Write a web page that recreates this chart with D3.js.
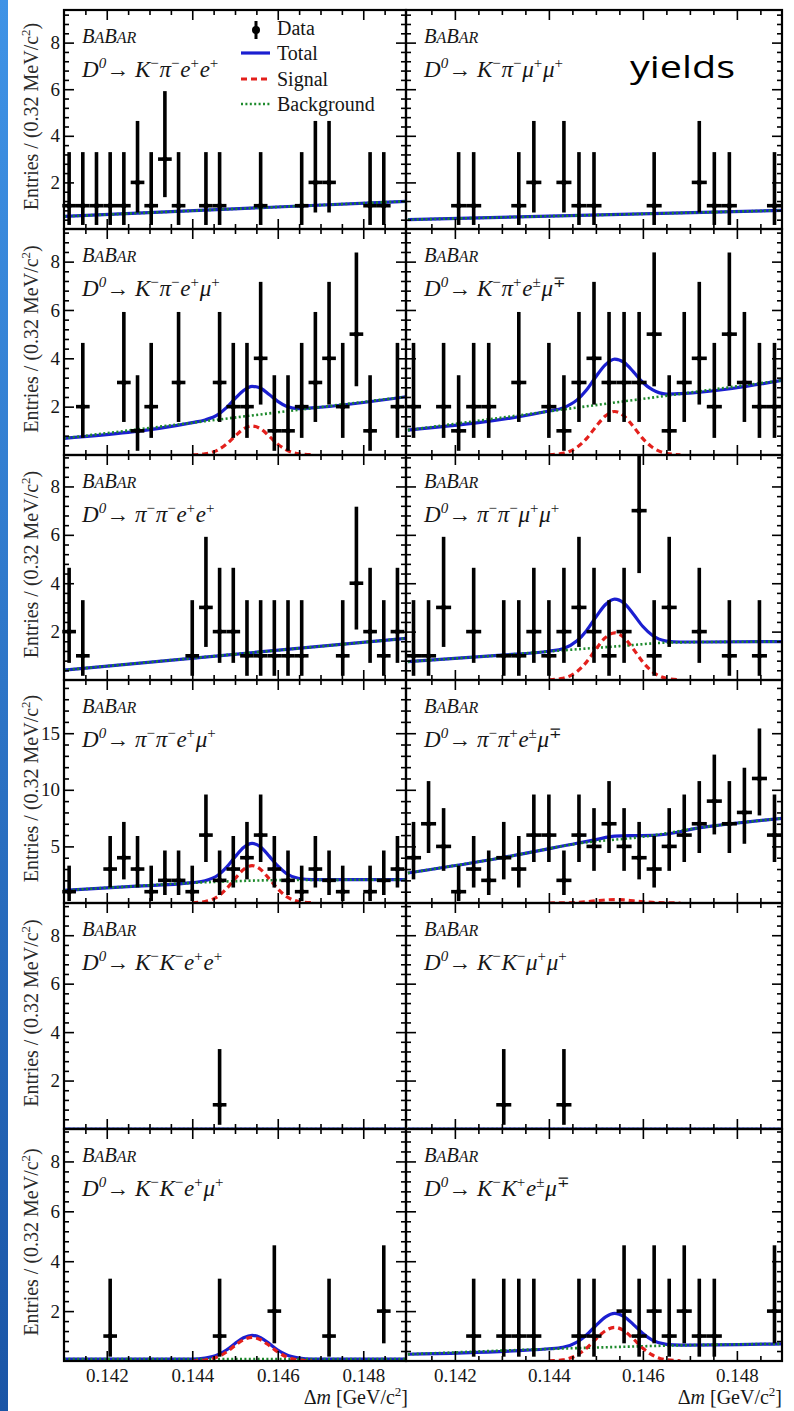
<!DOCTYPE html>
<html><head><meta charset="utf-8">
<script src="https://cdn.jsdelivr.net/npm/d3@7"></script>
<style>body{margin:0;background:#fff}svg{display:block}</style>
</head><body>
<svg id="c" width="794" height="1411"></svg>
<script>
// ---------------- DATA ----------------
const binCenters = [0.14112,0.14144,0.14176,0.14208,0.14240,0.14272,0.14304,0.14336,0.14368,0.14400,
  0.14432,0.14464,0.14496,0.14528,0.14560,0.14592,0.14624,0.14656,0.14688,0.14720,0.14752,0.14784,0.14816,0.14848,0.14880];
const binWidth = 0.00032;
const _ = null;
// Poisson (Garwood 68%) interval per count
const poissonLo = [0, 0.173, 0.708, 1.367, 2.086, 2.840, 3.620, 4.419, 5.232, 6.057, 6.891, 7.734];
const poissonHi = [1.841, 3.300, 4.638, 5.918, 7.163, 8.382, 9.584, 10.77, 11.95, 13.11, 14.27, 15.42];

const xTickLabels = [0.142, 0.144, 0.146, 0.148];
const yTicksLow = [2, 4, 6, 8];
const yTicksHigh = [5, 10, 15];

// counts per bin
const cKpiee     = [1,1,1,1,1,2,1,3,1,_,1,1,_,_,1,_,_,1,2,2,_,_,1,1,_];
const cKpimumu   = [_,_,_,1,1,_,_,1,2,_,2,1,1,_,_,_,1,_,_,2,1,1,_,_,1];
const cKpiemu    = [_,2,_,_,3,1,2,_,3,_,_,3,2,2,4,1,1,2,3,4,2,5,1,_,2];
const cKpiemuOS  = [2,_,2,1,2,2,_,3,_,2,1,3,4,3,3,3,5,1,3,4,2,5,3,2,2];
const cPipiee    = [2,1,_,_,_,_,_,_,_,1,3,2,2,1,1,1,1,1,_,_,1,4,2,1,2];
const cPipimumu  = [1,1,3,_,2,_,1,1,2,1,2,3,2,1,2,7,1,3,_,2,_,1,_,1,_];
const cPipiemu   = [1,_,_,3,4,3,1,2,2,1,6,2,3,4,6,3,2,1,3,2,1,_,1,2,3];
const cPipiemuOS = [4,7,5,1,3,2,4,3,6,6,2,6,5,7,5,4,3,5,6,7,9,7,8,11,6];
const cKKee      = [_,_,_,_,_,_,_,_,_,_,_,1,_,_,_,_,_,_,_,_,_,_,_,_,_];
const cKKmumu    = [_,_,_,_,_,_,1,_,_,_,1,_,_,_,_,_,_,_,_,_,_,_,_,_,_];
const cKKemu     = [_,_,_,1,_,_,_,_,_,_,_,1,_,_,_,2,_,_,_,1,_,_,_,2,_];
const cKKemuOS   = [_,_,_,_,1,_,1,1,1,_,_,1,1,_,2,1,2,1,2,1,1,_,_,_,2];

// fit curves: [Δm, entries]
const sigX = [0.1440,0.1443,0.1446,0.1448,0.1450,0.1452,0.1454,0.1456,0.1458,0.1460,0.1462,0.1465,0.1468];

const totKpiee = [[0.141,0.54],[0.149,1.19]];
const bgKpiee  = [[0.141,0.54],[0.149,1.19]];
const sigKpiee = [];
const totKpimumu = [[0.141,0.40],[0.149,0.80]];
const bgKpimumu  = [[0.141,0.40],[0.149,0.80]];
const sigKpimumu = [];

const totKpiemu = [[0.141,0.69],[0.1440,1.34],[0.1443,1.45],[0.1446,1.67],[0.1448,1.96],[0.1450,2.33],[0.1452,2.67],[0.1454,2.84],[0.1456,2.76],[0.1458,2.50],[0.1460,2.22],[0.1462,2.02],[0.1465,1.92],[0.1468,1.95],[0.149,2.41]];
const bgKpiemu  = [[0.141,0.69],[0.149,2.41]];
const sigKpiemu = [0.01,0.05,0.21,0.45,0.78,1.08,1.20,1.08,0.78,0.45,0.21,0.05,0.01];

const totKpiemuOS = [[0.141,1.03],[0.1440,1.82],[0.1443,1.95],[0.1446,2.28],[0.1448,2.69],[0.1450,3.24],[0.1452,3.73],[0.1454,3.97],[0.1456,3.83],[0.1458,3.44],[0.1460,3.00],[0.1462,2.70],[0.1465,2.52],[0.1468,2.54],[0.149,3.10]];
const bgKpiemuOS  = [[0.141,1.03],[0.149,3.10]];
const sigKpiemuOS = [0.01,0.07,0.32,0.68,1.17,1.61,1.80,1.61,1.17,0.68,0.32,0.07,0.01];

const totPipiee = [[0.141,0.41],[0.149,1.72]];
const bgPipiee  = [[0.141,0.41],[0.149,1.72]];
const sigPipiee = [];

const totPipimumu = [[0.141,0.76],[0.143,1.03],[0.1440,1.19],[0.1443,1.29],[0.1446,1.62],[0.1448,2.04],[0.1450,2.60],[0.1452,3.11],[0.1454,3.34],[0.1456,3.17],[0.1458,2.72],[0.1460,2.21],[0.1462,1.85],[0.1465,1.61],[0.1468,1.57],[0.149,1.59]];
const bgPipimumu  = [[0.141,0.76],[0.143,1.03],[0.1444,1.24],[0.1455,1.40],[0.1466,1.55],[0.149,1.59]];
const sigPipimumu = [0.01,0.07,0.35,0.74,1.27,1.75,1.95,1.75,1.27,0.74,0.35,0.07,0.01];

const totPipiemu = [[0.141,1.12],[0.1425,1.45],[0.1440,1.80],[0.1443,1.96],[0.1446,2.45],[0.1448,3.15],[0.1450,4.07],[0.1452,4.91],[0.1454,5.27],[0.1456,4.95],[0.1458,4.14],[0.1460,3.27],[0.1462,2.61],[0.1465,2.16],[0.1468,2.06],[0.149,2.06]];
const bgPipiemu  = [[0.141,1.12],[0.1425,1.45],[0.144,1.78],[0.145,1.93],[0.146,2.02],[0.149,2.06]];
const sigPipiemu = [0.02,0.13,0.58,1.25,2.14,2.96,3.30,2.96,2.14,1.25,0.58,0.13,0.02];

const totPipiemuOS = [[0.141,2.65],[0.143,4.0],[0.1446,5.28],[0.1450,5.6],[0.1454,5.9],[0.1458,5.95],[0.1462,5.97],[0.1473,6.7],[0.149,7.5]];
const bgPipiemuOS  = [[0.141,2.65],[0.143,4.0],[0.1447,5.3],[0.1460,5.85],[0.1473,6.7],[0.149,7.5]];
const sigPipiemuOS = [0,0.01,0.05,0.11,0.19,0.27,0.30,0.27,0.19,0.11,0.05,0.01,0];

const totKKee = [[0.141,0],[0.149,0]];
const bgKKee  = [[0.141,0],[0.149,0]];
const sigKKee = [];
const totKKmumu = [[0.141,0],[0.149,0]];
const bgKKmumu  = [[0.141,0],[0.149,0]];
const sigKKmumu = [];

const totKKemu = [[0.141,0.08],[0.1440,0.08],[0.1443,0.12],[0.1446,0.25],[0.1448,0.44],[0.1450,0.70],[0.1452,0.93],[0.1454,1.03],[0.1456,0.93],[0.1458,0.70],[0.1460,0.44],[0.1462,0.25],[0.1465,0.12],[0.1468,0.08],[0.149,0.08]];
const bgKKemu  = [[0.141,0.08],[0.149,0.08]];
const sigKKemu = [0,0.04,0.17,0.36,0.62,0.85,0.95,0.85,0.62,0.36,0.17,0.04,0];

const totKKemuOS = [[0.141,0.27],[0.1440,0.49],[0.1443,0.55],[0.1446,0.76],[0.1448,1.04],[0.1450,1.42],[0.1452,1.76],[0.1454,1.91],[0.1456,1.78],[0.1458,1.46],[0.1460,1.10],[0.1462,0.84],[0.1465,0.67],[0.1468,0.64],[0.149,0.69]];
const bgKKemuOS  = [[0.141,0.27],[0.1443,0.50],[0.1454,0.56],[0.1466,0.62],[0.149,0.69]];
const sigKKemuOS = [0.01,0.05,0.24,0.51,0.88,1.21,1.35,1.21,0.88,0.51,0.24,0.05,0.01];

// decay labels: [particle, charge]
const decays = [
  [["K","−"],["π","−"],["e","+"],["e","+"]],
  [["K","−"],["π","−"],["μ","+"],["μ","+"]],
  [["K","−"],["π","−"],["e","+"],["μ","+"]],
  [["K","−"],["π","+"],["e","±"],["μ","∓"]],
  [["π","−"],["π","−"],["e","+"],["e","+"]],
  [["π","−"],["π","−"],["μ","+"],["μ","+"]],
  [["π","−"],["π","−"],["e","+"],["μ","+"]],
  [["π","−"],["π","+"],["e","±"],["μ","∓"]],
  [["K","−"],["K","−"],["e","+"],["e","+"]],
  [["K","−"],["K","−"],["μ","+"],["μ","+"]],
  [["K","−"],["K","−"],["e","+"],["μ","+"]],
  [["K","−"],["K","+"],["e","±"],["μ","∓"]]
];

const panels = [
  {counts:cKpiee, tot:totKpiee, bg:bgKpiee, sig:sigKpiee},
  {counts:cKpimumu, tot:totKpimumu, bg:bgKpimumu, sig:sigKpimumu},
  {counts:cKpiemu, tot:totKpiemu, bg:bgKpiemu, sig:sigKpiemu},
  {counts:cKpiemuOS, tot:totKpiemuOS, bg:bgKpiemuOS, sig:sigKpiemuOS},
  {counts:cPipiee, tot:totPipiee, bg:bgPipiee, sig:sigPipiee},
  {counts:cPipimumu, tot:totPipimumu, bg:bgPipimumu, sig:sigPipimumu},
  {counts:cPipiemu, tot:totPipiemu, bg:bgPipiemu, sig:sigPipiemu},
  {counts:cPipiemuOS, tot:totPipiemuOS, bg:bgPipiemuOS, sig:sigPipiemuOS},
  {counts:cKKee, tot:totKKee, bg:bgKKee, sig:sigKKee},
  {counts:cKKmumu, tot:totKKmumu, bg:bgKKmumu, sig:sigKKmumu},
  {counts:cKKemu, tot:totKKemu, bg:bgKKemu, sig:sigKKemu},
  {counts:cKKemuOS, tot:totKKemuOS, bg:bgKKemuOS, sig:sigKKemuOS}
];

// ---------------- LAYOUT ----------------
const xDomains = [[0.141, 0.149], [0.14096, 0.14896]];
const colX = [[64, 406], [406, 782]];
const rowY = [[10,229],[229,455],[455,680],[680,903],[903,1129],[1129,1361]];
const yMax = [9.4, 9.35, 9.3, 19.7, 9.33, 9.3];
const SERIF = "'Liberation Serif','Times New Roman',serif";
const BLUE = "#1b1fd0", RED = "#e3201c", GREEN = "#1d8a2c", INK = "#161616";

const svg = d3.select("#c");
const defs = svg.append("defs");
const grad = defs.append("linearGradient").attr("id","strip").attr("x1",0).attr("y1",0).attr("x2",0).attr("y2",1);
grad.append("stop").attr("offset","0%").attr("stop-color","#3f93e6");
grad.append("stop").attr("offset","100%").attr("stop-color","#1a55a6");
svg.append("rect").attr("width",794).attr("height",1411).attr("fill","#fff");
svg.append("rect").attr("x",0).attr("y",0).attr("width",8).attr("height",1411).attr("fill","url(#strip)");

function decayLabel(g, x, y, parts) {
  const t = g.append("text").attr("x",x).attr("y",y).attr("font-family",SERIF)
    .attr("font-size",23).attr("fill",INK);
  t.append("tspan").attr("font-style","italic").text("D");
  t.append("tspan").attr("font-style","italic").attr("font-size",15).attr("dy",-9).text("0");
  t.append("tspan").attr("dy",9).text("\u2192 ");
  parts.forEach(([b,s]) => {
    t.append("tspan").attr("font-style","italic").text(b);
    t.append("tspan").attr("font-size",15).attr("dy",-9).text(s);
    t.append("tspan").attr("dy",9).attr("font-size",3).text(" ");
  });
}
function babar(g, x, y) {
  const t = g.append("text").attr("x",x).attr("y",y).attr("font-family",SERIF)
    .attr("font-style","italic").attr("fill",INK);
  t.append("tspan").attr("font-size",20.5).text("B");
  t.append("tspan").attr("font-size",16).text("A");
  t.append("tspan").attr("font-size",20.5).text("B");
  t.append("tspan").attr("font-size",16).text("AR");
}

const minorX = d3.range(0.1415, 0.1489, 0.0005).filter(v => !xTickLabels.some(m => Math.abs(m-v) < 1e-6));

panels.forEach((p, i) => {
  const row = Math.floor(i/2), col = i % 2;
  const [x0,x1] = colX[col], [y0,y1] = rowY[row];
  const x = d3.scaleLinear().domain(xDomains[col]).range([x0,x1]);
  const y = d3.scaleLinear().domain([0, yMax[row]]).range([y1,y0]);
  const g = svg.append("g");
  const clipId = "clip"+i;
  defs.append("clipPath").attr("id",clipId).append("rect")
    .attr("x",x0).attr("y",y0).attr("width",x1-x0).attr("height",y1-y0);

  const line = d3.line().x(d=>x(d[0])).y(d=>y(d[1])).curve(d3.curveMonotoneX);
  const cg = g.append("g").attr("clip-path",`url(#${clipId})`);
  cg.append("path").attr("d",line(p.tot)).attr("fill","none").attr("stroke",BLUE).attr("stroke-width",3.2);
  cg.append("path").attr("d",line(p.bg)).attr("fill","none").attr("stroke",GREEN)
    .attr("stroke-width",2.6).attr("stroke-dasharray","2,2.4");
  if (p.sig.length) {
    const sp = sigX.map((v,j)=>[v,p.sig[j]]);
    cg.append("path").attr("d",line(sp)).attr("fill","none").attr("stroke",RED)
      .attr("stroke-width",3.2).attr("stroke-dasharray","6,4");
  }

  // data points
  const pts = binCenters.map((c,k)=>({c, n:p.counts[k]})).filter(d => d.n !== null);
  const dg = g.append("g").attr("clip-path",`url(#${clipId})`);
  dg.selectAll("line.v").data(pts).join("line")
    .attr("x1",d=>x(d.c)).attr("x2",d=>x(d.c))
    .attr("y1",d=>y(poissonLo[d.n])).attr("y2",d=>y(poissonHi[d.n]))
    .attr("stroke","#000").attr("stroke-width",3.6);
  const dg2 = g.append("g");
  dg2.selectAll("line.h").data(pts).join("line")
    .attr("x1",d=>x(d.c-binWidth/2)).attr("x2",d=>x(d.c+binWidth/2))
    .attr("y1",d=>y(d.n)).attr("y2",d=>y(d.n))
    .attr("stroke","#000").attr("stroke-width",3.6);
  dg2.selectAll("circle").data(pts).join("circle")
    .attr("cx",d=>x(d.c)).attr("cy",d=>y(d.n)).attr("r",2.6).attr("fill","#000");

  // frame
  g.append("rect").attr("x",x0).attr("y",y0).attr("width",x1-x0).attr("height",y1-y0)
    .attr("fill","none").attr("stroke","#000").attr("stroke-width",2.2);

  // ticks
  const yMaj = row===3 ? yTicksHigh : yTicksLow;
  const yMin = row===3 ? d3.range(1,19.5,1).filter(v=>v%5!==0) : d3.range(0.4,9.3,0.4).filter(v=>Math.abs(v/2-Math.round(v/2))>0.01);
  const clean = s => s.select(".domain").remove();
  const tickStyle = s => s.selectAll("line").attr("stroke","#000").attr("stroke-width",1.6);
  const bottomLabels = row===5;
  g.append("g").attr("transform",`translate(0,${y1})`)
    .call(d3.axisBottom(x).tickValues(xTickLabels).tickSize(-10).tickPadding(8)
      .tickFormat(bottomLabels ? d3.format(".3f") : ""))
    .call(clean).call(tickStyle)
    .call(s=>s.selectAll("text").attr("font-family",SERIF).attr("font-size",19).attr("fill",INK));
  g.append("g").attr("transform",`translate(0,${y1})`)
    .call(d3.axisBottom(x).tickValues(minorX).tickSize(-5).tickFormat("")).call(clean).call(tickStyle);
  g.append("g").attr("transform",`translate(0,${y0})`)
    .call(d3.axisTop(x).tickValues(xTickLabels).tickSize(-10).tickFormat("")).call(clean).call(tickStyle);
  g.append("g").attr("transform",`translate(0,${y0})`)
    .call(d3.axisTop(x).tickValues(minorX).tickSize(-5).tickFormat("")).call(clean).call(tickStyle);
  g.append("g").attr("transform",`translate(${x0},0)`)
    .call(d3.axisLeft(y).tickValues(yMaj).tickSize(-10).tickPadding(4)
      .tickFormat(col===0 ? d3.format("d") : ""))
    .call(clean).call(tickStyle)
    .call(s=>s.selectAll("text").attr("font-family",SERIF).attr("font-size",19).attr("fill",INK));
  g.append("g").attr("transform",`translate(${x0},0)`)
    .call(d3.axisLeft(y).tickValues(yMin).tickSize(-5).tickFormat("")).call(clean).call(tickStyle);
  g.append("g").attr("transform",`translate(${x1},0)`)
    .call(d3.axisRight(y).tickValues(yMaj).tickSize(-10).tickFormat("")).call(clean).call(tickStyle);
  g.append("g").attr("transform",`translate(${x1},0)`)
    .call(d3.axisRight(y).tickValues(yMin).tickSize(-5).tickFormat("")).call(clean).call(tickStyle);

  // labels
  const tx = x0 + 18;
  babar(g, tx, y0 + 33);
  decayLabel(g, tx, y0 + 67, decays[i]);

  if (col === 0) {
    const t = svg.append("text")
      .attr("transform",`translate(38,${(y0+y1)/2 - 3}) rotate(-90)`)
      .attr("text-anchor","middle").attr("font-family",SERIF).attr("font-size",20).attr("fill","#2a2a2a");
    t.append("tspan").text("Entries / (0.32 MeV/c");
    t.append("tspan").attr("font-size",13).attr("dy",-8).text("2");
    t.append("tspan").attr("dy",8).text(")");
  }
  if (row === 5) {
    const t = svg.append("text").attr("x", col===0 ? 408 : 782).attr("y",1404)
      .attr("text-anchor","end").attr("font-family",SERIF).attr("font-size",20).attr("fill",INK);
    t.append("tspan").text("Δ");
    t.append("tspan").attr("font-style","italic").text("m");
    t.append("tspan").text(" [GeV/c");
    t.append("tspan").attr("font-size",13).attr("dy",-8).text("2");
    t.append("tspan").attr("dy",8).text("]");
  }
});

// legend (top-left panel)
const lg = svg.append("g").attr("font-family",SERIF).attr("font-size",20).attr("fill",INK);
lg.append("line").attr("x1",256).attr("x2",256).attr("y1",21).attr("y2",39).attr("stroke","#000").attr("stroke-width",3);
lg.append("circle").attr("cx",256).attr("cy",30).attr("r",4).attr("fill","#000");
lg.append("text").attr("x",277).attr("y",35).text("Data");
lg.append("line").attr("x1",241).attr("x2",270).attr("y1",53).attr("y2",53).attr("stroke",BLUE).attr("stroke-width",3.2);
lg.append("text").attr("x",277).attr("y",60).text("Total");
lg.append("line").attr("x1",241).attr("x2",270).attr("y1",79).attr("y2",79).attr("stroke",RED).attr("stroke-width",3.2).attr("stroke-dasharray","6,4");
lg.append("text").attr("x",277).attr("y",86).text("Signal");
lg.append("line").attr("x1",241).attr("x2",270).attr("y1",104).attr("y2",104).attr("stroke",GREEN).attr("stroke-width",2.6).attr("stroke-dasharray","2,2.4");
lg.append("text").attr("x",277).attr("y",111).text("Background");

// slide annotation
svg.append("text").attr("x",630).attr("y",78).attr("font-family","'Open Sans',sans-serif")
  .attr("font-size",31).attr("fill","#000").attr("textLength",105).attr("lengthAdjust","spacingAndGlyphs").text("yields");
</script>
</body></html>
